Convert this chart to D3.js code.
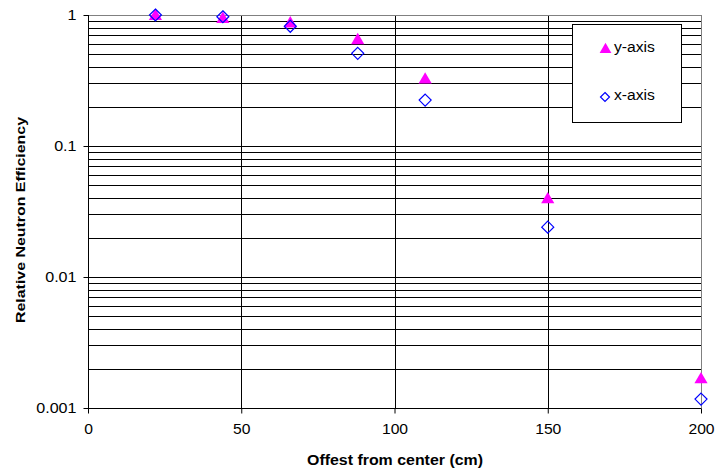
<!DOCTYPE html>
<html>
<head>
<meta charset="utf-8">
<script src="https://cdn.jsdelivr.net/npm/d3@7"></script>
<style>
body { margin: 0; background: #fff; }
text { font-family: "Liberation Sans", Arial, sans-serif; }
</style>
</head>
<body>
<div id="chart"></div>
<script>
// data
var offsets = [22, 44, 66, 88, 110, 150, 200];
var yAxisEff = [0.98, 0.93, 0.86, 0.64, 0.32, 0.039, 0.00165];
var xAxisEff = [1.0, 0.97, 0.82, 0.51, 0.224, 0.024, 0.00117];
var xTicks = [0, 50, 100, 150, 200];
var yTicks = [1, 0.1, 0.01, 0.001];
var yTickLabels = ["1", "0.1", "0.01", "0.001"];

var width = 715, height = 474;
// plot box ("top" is taken by window.top, so use other names)
var plotL = 88, plotR = 701, plotT = 15, plotB = 408;

var svg = d3.select("#chart").append("svg")
    .attr("width", width)
    .attr("height", height);

// the original chart is a bit stretched sideways, widen texts to match
function stretch(sel, f) {
    sel.each(function() {
        var w = this.getComputedTextLength();
        d3.select(this).attr("textLength", w * f).attr("lengthAdjust", "spacingAndGlyphs");
    });
}

var x = d3.scaleLinear().domain([0, 200]).range([plotL, plotR]);
var y = d3.scaleLog().domain([0.001, 1]).range([plotB, plotT]);

// horizontal grid: every minor step of each decade
var hGrid = [];
for (var k = -3; k < 0; k++) {
    for (var m = 1; m < 10; m++) hGrid.push(m * Math.pow(10, k));
}
svg.append("g").selectAll("line")
    .data(hGrid)
    .enter().append("line")
    .attr("x1", plotL).attr("x2", plotR)
    .attr("y1", d => Math.round(y(d)) + 0.5)
    .attr("y2", d => Math.round(y(d)) + 0.5)
    .attr("stroke", "#000")
    .attr("stroke-width", 1);

// vertical grid
svg.append("g").selectAll("line")
    .data(xTicks.slice(1, -1))
    .enter().append("line")
    .attr("x1", d => Math.round(x(d)) + 0.5)
    .attr("x2", d => Math.round(x(d)) + 0.5)
    .attr("y1", plotT).attr("y2", plotB)
    .attr("stroke", "#000");

// plot border top/right
svg.append("line")
    .attr("x1", plotL).attr("x2", plotR + 0.5)
    .attr("y1", plotT + 0.5).attr("y2", plotT + 0.5)
    .attr("stroke", "#808080");
svg.append("line")
    .attr("x1", plotR + 0.5).attr("x2", plotR + 0.5)
    .attr("y1", plotT).attr("y2", plotB)
    .attr("stroke", "#808080");

// axes
var xAxis = d3.axisBottom(x).tickValues(xTicks).tickSize(5).tickPadding(11);
var gx = svg.append("g")
    .attr("transform", "translate(0," + (plotB + 0.5) + ")")
    .call(xAxis);
gx.select(".domain").attr("stroke", "#000").attr("d", "M" + plotL + ",0H" + (plotR + 0.5));
gx.selectAll(".tick line").attr("stroke", "#000");
gx.selectAll("text").attr("font-size", 14).attr("fill", "#000")
    .attr("font-family", "Liberation Sans, Arial, sans-serif");
stretch(gx.selectAll("text"), 1.12);

var yAxis = d3.axisLeft(y).tickValues(yTicks)
    .tickFormat((d, i) => yTickLabels[i]).tickSize(5).tickPadding(7);
var gy = svg.append("g")
    .attr("transform", "translate(" + (plotL + 0.5) + ",0)")
    .call(yAxis);
gy.select(".domain").attr("stroke", "#000").attr("d", "M0," + plotT + "V" + plotB);
gy.selectAll(".tick line").attr("stroke", "#000");
gy.selectAll("text").attr("font-size", 14).attr("fill", "#000")
    .attr("font-family", "Liberation Sans, Arial, sans-serif");
stretch(gy.selectAll("text"), 1.15);

// markers
var tri = d3.symbol().type(d3.symbolTriangle).size(75);
var diamond = "M0,-6L6,0L0,6L-6,0Z";

svg.append("g").selectAll("path")
    .data(offsets)
    .enter().append("path")
    .attr("d", tri)
    .attr("transform", (d, i) => "translate(" + x(d) + "," + y(yAxisEff[i]) + ")")
    .attr("fill", "#ff00ff");

svg.append("g").selectAll("path")
    .data(offsets)
    .enter().append("path")
    .attr("d", diamond)
    .attr("transform", (d, i) => "translate(" + x(d) + "," + y(xAxisEff[i]) + ")")
    .attr("fill", "none")
    .attr("stroke", "#0000ff")
    .attr("stroke-width", 1.2);

// axis titles
svg.append("text")
    .attr("x", 395)
    .attr("y", 465)
    .attr("text-anchor", "middle")
    .attr("font-size", 14)
    .attr("font-weight", "bold")
    .attr("textLength", 176)
    .attr("lengthAdjust", "spacingAndGlyphs")
    .text("Offest from center (cm)");

svg.append("text")
    .attr("transform", "translate(24.5,220) rotate(-90)")
    .attr("text-anchor", "middle")
    .attr("font-size", 13.5)
    .attr("font-weight", "bold")
    .attr("textLength", 206)
    .attr("lengthAdjust", "spacingAndGlyphs")
    .text("Relative Neutron Efficiency");

// legend
var legend = svg.append("g").attr("transform", "translate(572.5,24.5)");
legend.append("rect")
    .attr("width", 109).attr("height", 98)
    .attr("fill", "#fff").attr("stroke", "#000");
legend.append("path")
    .attr("d", d3.symbol().type(d3.symbolTriangle).size(60))
    .attr("transform", "translate(33,25)")
    .attr("fill", "#ff00ff");
legend.append("text")
    .attr("x", 41.5).attr("y", 27.5)
    .attr("font-size", 14)
    .text("y-axis");
legend.append("path")
    .attr("d", "M0,-4.5L4.5,0L0,4.5L-4.5,0Z")
    .attr("transform", "translate(32.5,72.5)")
    .attr("fill", "none")
    .attr("stroke", "#0000ff")
    .attr("stroke-width", 1.2);
legend.append("text")
    .attr("x", 41.5).attr("y", 75.5)
    .attr("font-size", 14)
    .text("x-axis");
stretch(legend.selectAll("text"), 1.12);
</script>
</body>
</html>
